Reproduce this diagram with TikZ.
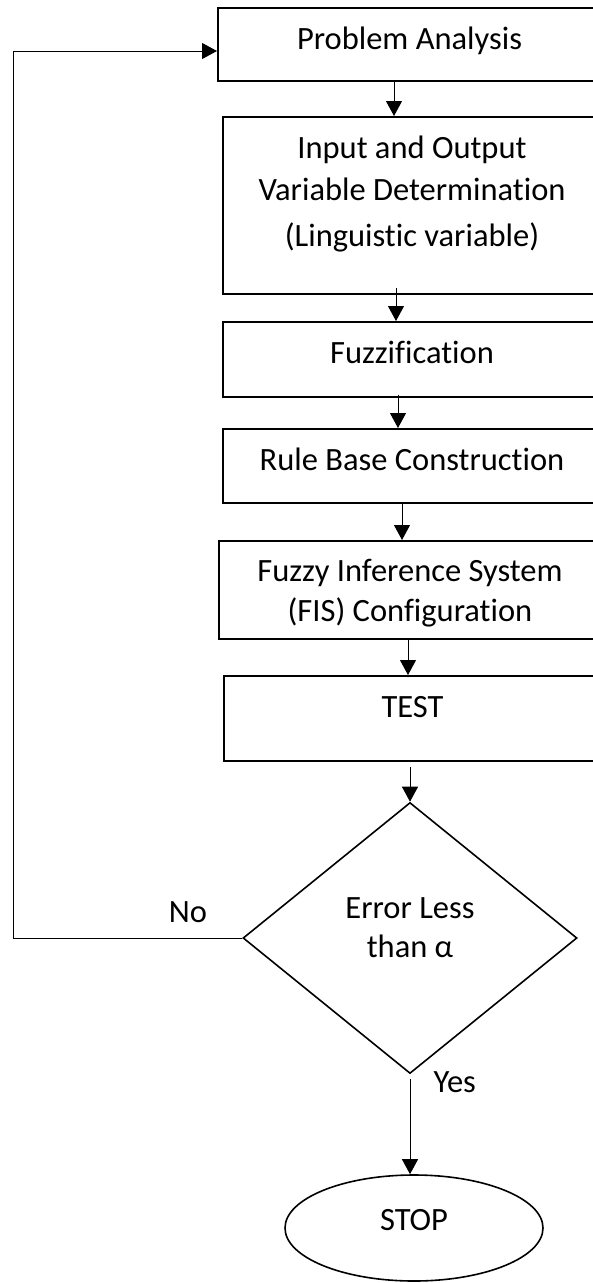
\documentclass[tikz,border=0pt]{standalone}
\usepackage{fontspec}
\setmainfont{Carlito}[Ligatures=NoCommon]
\usetikzlibrary{shapes.geometric,arrows.meta}
\newcommand\flowfont{\fontsize{32.5}{42}\selectfont}
\tikzset{
  stage/.style={draw, line width=2pt, anchor=north west, inner sep=0pt, align=center, text height=41pt, font=\flowfont},
  decision/.style={draw, diamond, line width=1.6pt, inner sep=0pt, minimum width=334pt, minimum height=271pt, align=center, font=\flowfont},
  terminal/.style={draw, ellipse, line width=1.6pt, inner sep=0pt, minimum width=258pt, minimum height=106pt, font=\flowfont},
  flow/.style={-{Triangle[length=15pt,width=16pt]}, line width=1pt},
}
\begin{document}
\begin{tikzpicture}[x=1pt, y=-1pt]
  \useasboundingbox (0,0) rectangle (593,1283);
  \clip (0,0) rectangle (593,1283);
  % steps
  \node[stage, minimum width=383pt, text depth=32pt] (analysis) at (217,7) {Problem Analysis};
  \node[stage, minimum width=378pt, text height=129pt, text depth=48pt] (variables) at (222,116) {Input and Output\\Variable Determination\\[4pt](Linguistic variable)};
  \node[stage, minimum width=378pt, text depth=34pt] (fuzz) at (222,321) {Fuzzification};
  \node[stage, minimum width=378pt, text depth=33pt] (rules) at (222,428) {Rule Base Construction};
  \node[stage, minimum width=382pt, text height=80pt, text depth=18pt] (fis) at (218,540) {Fuzzy Inference System\\[-2pt](FIS) Configuration};
  \node[stage, minimum width=377pt, text depth=44pt] (test) at (223,675) {TEST};
  \node[decision, text height=62pt, text depth=24pt] (check) at (410,938) {Error Less\\[-3pt]than α};
  \node[terminal, text height=22pt, text depth=18pt] (stop) at (414,1228) {STOP};
  % labels
  \node[anchor=base, font=\flowfont] (no) at (188,922) {No};
  \node[anchor=base west, font=\flowfont] (yes) at (430,1092) {Yes};
  % arrows
  \draw[flow] (analysis.south -| 394,0) -- (variables.north -| 394,0);
  \draw[flow, shorten <=-7pt] (variables.south -| 396,0) -- (fuzz.north -| 396,0);
  \draw[flow, shorten <=-3pt] (fuzz.south -| 398,0) -- (rules.north -| 398,0);
  \draw[flow] (rules.south -| 402,0) -- (fis.north -| 402,0);
  \draw[flow] (fis.south -| 408,0) -- (test.north -| 408,0);
  \draw[flow, shorten <=5pt] (test.south -| 410,0) -- (check.north);
  \draw[flow, shorten <=5pt] (check.south) -- (stop.north -| check.south);
  % back to the start
  \coordinate (corner) at (13,938);
  \coordinate (top) at (13,51);
  \draw[flow] (check.west) -- (corner) -- (top) -- (analysis.west |- top);
\end{tikzpicture}
\end{document}
